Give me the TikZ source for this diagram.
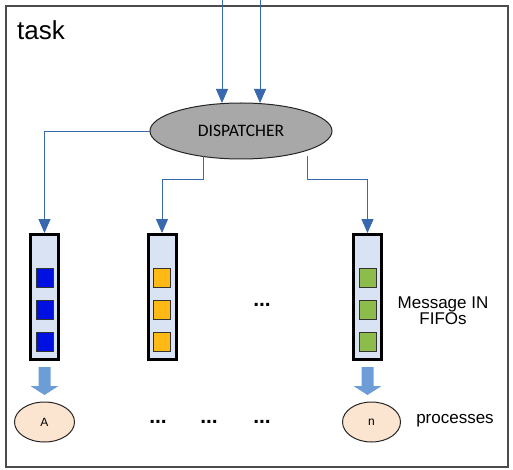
\documentclass[tikz,border=0pt]{standalone}
\usepackage{fontspec}
\setmainfont{Liberation Sans}
\newfontfamily\calib{Carlito}
\usetikzlibrary{arrows.meta,shapes.geometric}

\definecolor{flowblue}{HTML}{3868AE}
\definecolor{fifofill}{HTML}{DAE3F3}
\definecolor{bigarrow}{HTML}{6C9DD6}
\definecolor{procfill}{HTML}{FCE5D0}
\definecolor{msgblue}{HTML}{0010E0}
\definecolor{msgorange}{HTML}{FFB914}
\definecolor{msggreen}{HTML}{8DBB4C}
\definecolor{dispfill}{HTML}{A8A8A8}

\tikzset{
  flow/.style={draw=flowblue, line width=0.9pt, -{Triangle[width=12pt,length=14pt]}},
  fifobox/.style={draw=black, line width=3pt, fill=fifofill, minimum width=28pt, minimum height=125pt, inner sep=0pt},
  msg/.style={draw=black!80, line width=0.8pt, minimum width=17pt, minimum height=19pt, inner sep=0pt},
  proc/.style={ellipse, draw=black!85, line width=1pt, fill=procfill, minimum width=60pt, minimum height=40pt, inner sep=0pt, font=\fontsize{12}{14}\selectfont},
  dots/.style={font=\bfseries\fontsize{21}{22}\selectfont},
  lbl/.style={font=\fontsize{17}{19}\selectfont, align=center}
}

\begin{document}
\begin{tikzpicture}[x=1pt, y=-1pt]
  \useasboundingbox (0,0) rectangle (513,470);
  \fill[white] (0,0) rectangle (513,470);

  % task frame
  \draw[draw=black!70, line width=1.6pt] (6,6) rectangle (508,467);
  \node[anchor=base west, font=\fontsize{26}{28}\selectfont, inner sep=0pt] (tasklbl) at (17,40) {task};

  % dispatcher
  \node[ellipse, draw=black!85, line width=1pt, fill=dispfill, minimum width=182pt, minimum height=56pt, inner sep=0pt, font=\calib\fontsize{17.5}{19}\selectfont] (disp) at (241,131) {DISPATCHER};

  % incoming messages
  \coordinate (in1) at (222,0);
  \coordinate (in2) at (260,0);
  \draw[flow] (in1) -- (222,103);
  \draw[flow] (in2) -- (260,103);

  % FIFOs
  \node[fifobox] (fifoA) at (44.5,297) {};
  \node[fifobox] (fifoB) at (162,297) {};
  \node[fifobox] (fifoN) at (367.5,297) {};

  \foreach \f/\c in {fifoA/msgblue, fifoB/msgorange, fifoN/msggreen}{
    \node[msg, fill=\c] at ([yshift=19pt]\f.center) {};
    \node[msg, fill=\c] at ([yshift=-13pt]\f.center) {};
    \node[msg, fill=\c] at ([yshift=-45pt]\f.center) {};
  }

  % dispatcher to FIFOs
  \draw[flow] (disp.west) -| (fifoA.north);
  \draw[flow] (203,156) |- (162,179) -- (fifoB.north);
  \draw[flow] (307,156) |- (367.5,179) -- (fifoN.north);

  % processes
  \node[proc] (procA) at (44.5,422) {A};
  \node[proc, minimum width=58pt] (procN) at (371.5,422) {n};

  % FIFO to process block arrows
  \foreach \x in {44.5, 367.5}{
    \fill[bigarrow] (\x-6,367) -- (\x+6,367) -- (\x+6,386) -- (\x+14,386)
      -- (\x,395) -- (\x-14,386) -- (\x-6,386) -- cycle;
  }

  % labels and ellipses
  \node[lbl] (fifolbl) at (443,311) {Message IN\\[-3pt]FIFOs};
  \node[lbl] (proclbl) at (455,421) {processes};
  \node[dots] (d0) at (262,305) {...};
  \node[dots] (d1) at (158,422) {...};
  \node[dots] (d2) at (209,422) {...};
  \node[dots] (d3) at (262,422) {...};
\end{tikzpicture}
\end{document}
